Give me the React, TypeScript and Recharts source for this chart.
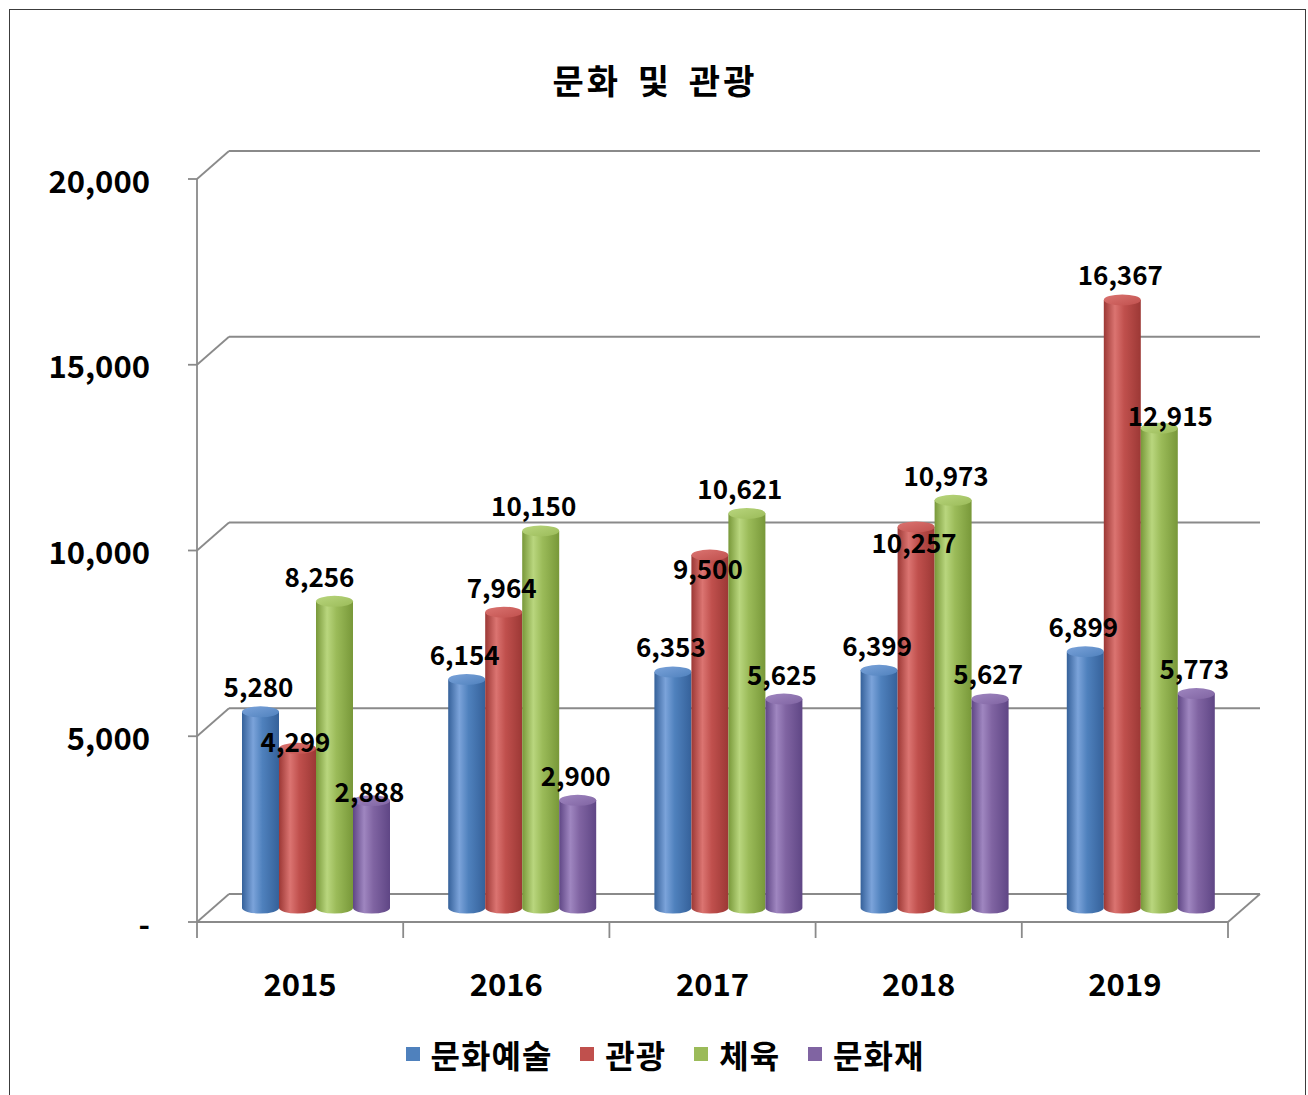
import React from "react";
import { BarChart, Bar, XAxis, YAxis, CartesianGrid, LabelList } from "recharts";

const years = ["2015", "2016", "2017", "2018", "2019"];
const arts = [5280, 6154, 6353, 6399, 6899];
const tourism = [4299, 7964, 9500, 10257, 16367];
const sports = [8256, 10150, 10621, 10973, 12915];
const heritage = [2888, 2900, 5625, 5627, 5773];
const yTicks = [0, 5000, 10000, 15000, 20000];

const series = [
  { key: "arts", name: "문화예술", values: arts, base: "#4F81BD", light: "#7BA3DA", dark: "#35619A" },
  { key: "tourism", name: "관광", values: tourism, base: "#C0504D", light: "#DB7471", dark: "#9C3835" },
  { key: "sports", name: "체육", values: sports, base: "#9BBB59", light: "#B9D67E", dark: "#789839" },
  { key: "heritage", name: "문화재", values: heritage, base: "#8064A2", light: "#9F86C0", dark: "#5F4685" },
];

const data = years.map((year, i) => {
  const row: Record<string, string | number> = { year };
  series.forEach((s) => {
    row[s.key] = s.values[i];
  });
  return row;
});

// excel put a few labels in odd spots, nudge those
const labelNudge: Record<string, { dx?: number; dy?: number }> = {
  "tourism-0": { dy: 18 },
  "tourism-2": { dy: 38 },
  "tourism-3": { dy: 41 },
  "sports-0": { dx: -8 },
  "sports-4": { dx: 18, dy: 12 },
  "heritage-0": { dy: 16 },
};

const W = 1308;
const H = 1095;
const PLOT_LEFT = 213;
const PLOT_RIGHT = 1244;
const PLOT_TOP = 165;
const PLOT_BOTTOM = 908;
const DX = 16; // half depth of the 3d box
const DY = 14;
const FONT = "'Noto Sans CJK KR', 'Noto Sans', sans-serif";
const LINE = "#8a8a8a";

function GridLine(props: any) {
  const { x1, x2, y1, y, height } = props;
  const isFloor = Math.abs(y1 - (y + height)) < 1;
  const isTop = Math.abs(y1 - y) < 1;
  return (
    <g stroke={LINE} strokeWidth={1.8} fill="none">
      <line x1={x1 + DX} y1={y1 - DY} x2={x2 + DX} y2={y1 - DY} />
      <line x1={x1 - DX} y1={y1 + DY} x2={x1 + DX} y2={y1 - DY} />
      {isFloor && (
        <>
          <line x1={x1 - DX} y1={y1 + DY} x2={x2 - DX} y2={y1 + DY} />
          <line x1={x2 - DX} y1={y1 + DY} x2={x2 + DX} y2={y1 - DY} />
        </>
      )}
      {isTop && <line x1={x1 - DX} y1={y1 + DY} x2={x1 - DX} y2={y + height + DY} />}
    </g>
  );
}

function YTick(props: any) {
  const { y, payload } = props;
  const fy = y + DY;
  const fx = PLOT_LEFT - DX;
  const v = payload.value as number;
  return (
    <g>
      <line x1={fx - 9} y1={fy} x2={fx} y2={fy} stroke={LINE} strokeWidth={1.8} />
      <text
        x={fx - 47}
        y={fy}
        textAnchor="end"
        dominantBaseline="central"
        fontFamily={FONT}
        fontWeight={700}
        fontSize={31}
        fill="#000"
      >
        {v === 0 ? "-" : v.toLocaleString("en-US")}
      </text>
    </g>
  );
}

function XTick(props: any) {
  const { x, payload, index, visibleTicksCount } = props;
  const band = (PLOT_RIGHT - PLOT_LEFT) / years.length;
  const fy = PLOT_BOTTOM + DY;
  const left = x - band / 2 - DX;
  return (
    <g>
      <line x1={left} y1={fy} x2={left} y2={fy + 16} stroke={LINE} strokeWidth={1.8} />
      {index === visibleTicksCount - 1 && (
        <line x1={left + band} y1={fy} x2={left + band} y2={fy + 16} stroke={LINE} strokeWidth={1.8} />
      )}
      <text
        x={x - DX}
        y={fy + 60}
        textAnchor="middle"
        dominantBaseline="central"
        fontFamily={FONT}
        fontWeight={700}
        fontSize={31}
        fill="#000"
      >
        {payload.value}
      </text>
    </g>
  );
}

function Cylinder(props: any) {
  const { x, y, width, height, sKey } = props;
  if (!width || height == null) return null;
  const rx = width / 2;
  const ry = 5.5;
  const by = y + height;
  const body = `M${x},${y} L${x},${by} A${rx},${ry} 0 0 0 ${x + width},${by} L${x + width},${y} Z`;
  return (
    <g>
      <path d={body} fill={`url(#body-${sKey})`} />
      <ellipse cx={x + rx} cy={y} rx={rx} ry={ry} fill={`url(#top-${sKey})`} />
    </g>
  );
}

function makeLabel(sKey: string) {
  return (props: any) => {
    const { x, y, width, value, index } = props;
    const n = labelNudge[`${sKey}-${index}`] || {};
    const baseDx = sKey === "sports" ? -7 : -2;
    return (
      <text
        x={x + width / 2 + baseDx + (n.dx || 0)}
        y={y - 26 + (n.dy || 0)}
        textAnchor="middle"
        dominantBaseline="central"
        fontFamily={FONT}
        fontWeight={700}
        fontSize={26}
        fill="#000"
      >
        {Number(value).toLocaleString("en-US")}
      </text>
    );
  };
}

export default function App() {
  return (
    <div
      style={{
        position: "absolute",
        left: 0,
        top: 0,
        width: W,
        height: H,
        overflow: "hidden",
        background: "#fff",
        fontFamily: FONT,
      }}
    >
      <div
        style={{
          position: "absolute",
          left: 9,
          top: 9,
          width: 1295,
          height: 1100,
          border: "1.5px solid #3c3c3c",
          borderBottom: "none",
        }}
      />
      <div
        style={{
          position: "absolute",
          left: 0,
          top: 55,
          width: W,
          textAlign: "center",
          fontSize: 34,
          fontWeight: 700,
          color: "#000",
          letterSpacing: 3,
          wordSpacing: 6,
          paddingLeft: 2,
          boxSizing: "border-box",
        }}
      >
        문화 및 관광
      </div>
      <div style={{ position: "absolute", left: 0, top: 0 }}>
        <BarChart
          width={W}
          height={H}
          data={data}
          margin={{ top: PLOT_TOP, right: W - PLOT_RIGHT, bottom: 87, left: PLOT_LEFT - 120 }}
          barGap={0}
          barSize={37}
        >
          <defs>
            {series.map((s) => (
              <React.Fragment key={s.key}>
                <linearGradient id={`body-${s.key}`} x1="0" y1="0" x2="1" y2="0">
                  <stop offset="0%" stopColor={s.dark} />
                  <stop offset="30%" stopColor={s.light} />
                  <stop offset="55%" stopColor={s.base} />
                  <stop offset="100%" stopColor={s.dark} />
                </linearGradient>
                <linearGradient id={`top-${s.key}`} x1="0" y1="0" x2="1" y2="1">
                  <stop offset="0%" stopColor={s.light} />
                  <stop offset="100%" stopColor={s.base} />
                </linearGradient>
              </React.Fragment>
            ))}
          </defs>
          <CartesianGrid vertical={false} horizontal={(p: any) => <GridLine {...p} />} />
          <XAxis
            dataKey="year"
            height={100}
            axisLine={false}
            tickLine={false}
            interval={0}
            tick={(p: any) => <XTick {...p} />}
          />
          <YAxis
            width={120}
            domain={[0, 20000]}
            ticks={yTicks}
            axisLine={false}
            tickLine={false}
            tick={(p: any) => <YTick {...p} />}
          />
          {series.map((s) => (
            <Bar
              key={s.key}
              dataKey={s.key}
              name={s.name}
              fill={s.base}
              isAnimationActive={false}
              shape={(p: any) => <Cylinder {...p} sKey={s.key} />}
            >
              <LabelList dataKey={s.key} content={makeLabel(s.key)} />
            </Bar>
          ))}
        </BarChart>
      </div>
      <div
        style={{
          position: "absolute",
          left: 0,
          top: 1034,
          width: W,
          display: "flex",
          justifyContent: "center",
          paddingLeft: 22,
          boxSizing: "border-box",
          gap: 28,
        }}
      >
        {series.map((s) => (
          <div key={s.key} style={{ display: "flex", alignItems: "center", gap: 11 }}>
            <span style={{ width: 14, height: 14, background: s.base, display: "inline-block" }} />
            <span style={{ fontSize: 32, fontWeight: 700, color: "#000", lineHeight: "40px", letterSpacing: 1 }}>
              {s.name}
            </span>
          </div>
        ))}
      </div>
    </div>
  );
}
